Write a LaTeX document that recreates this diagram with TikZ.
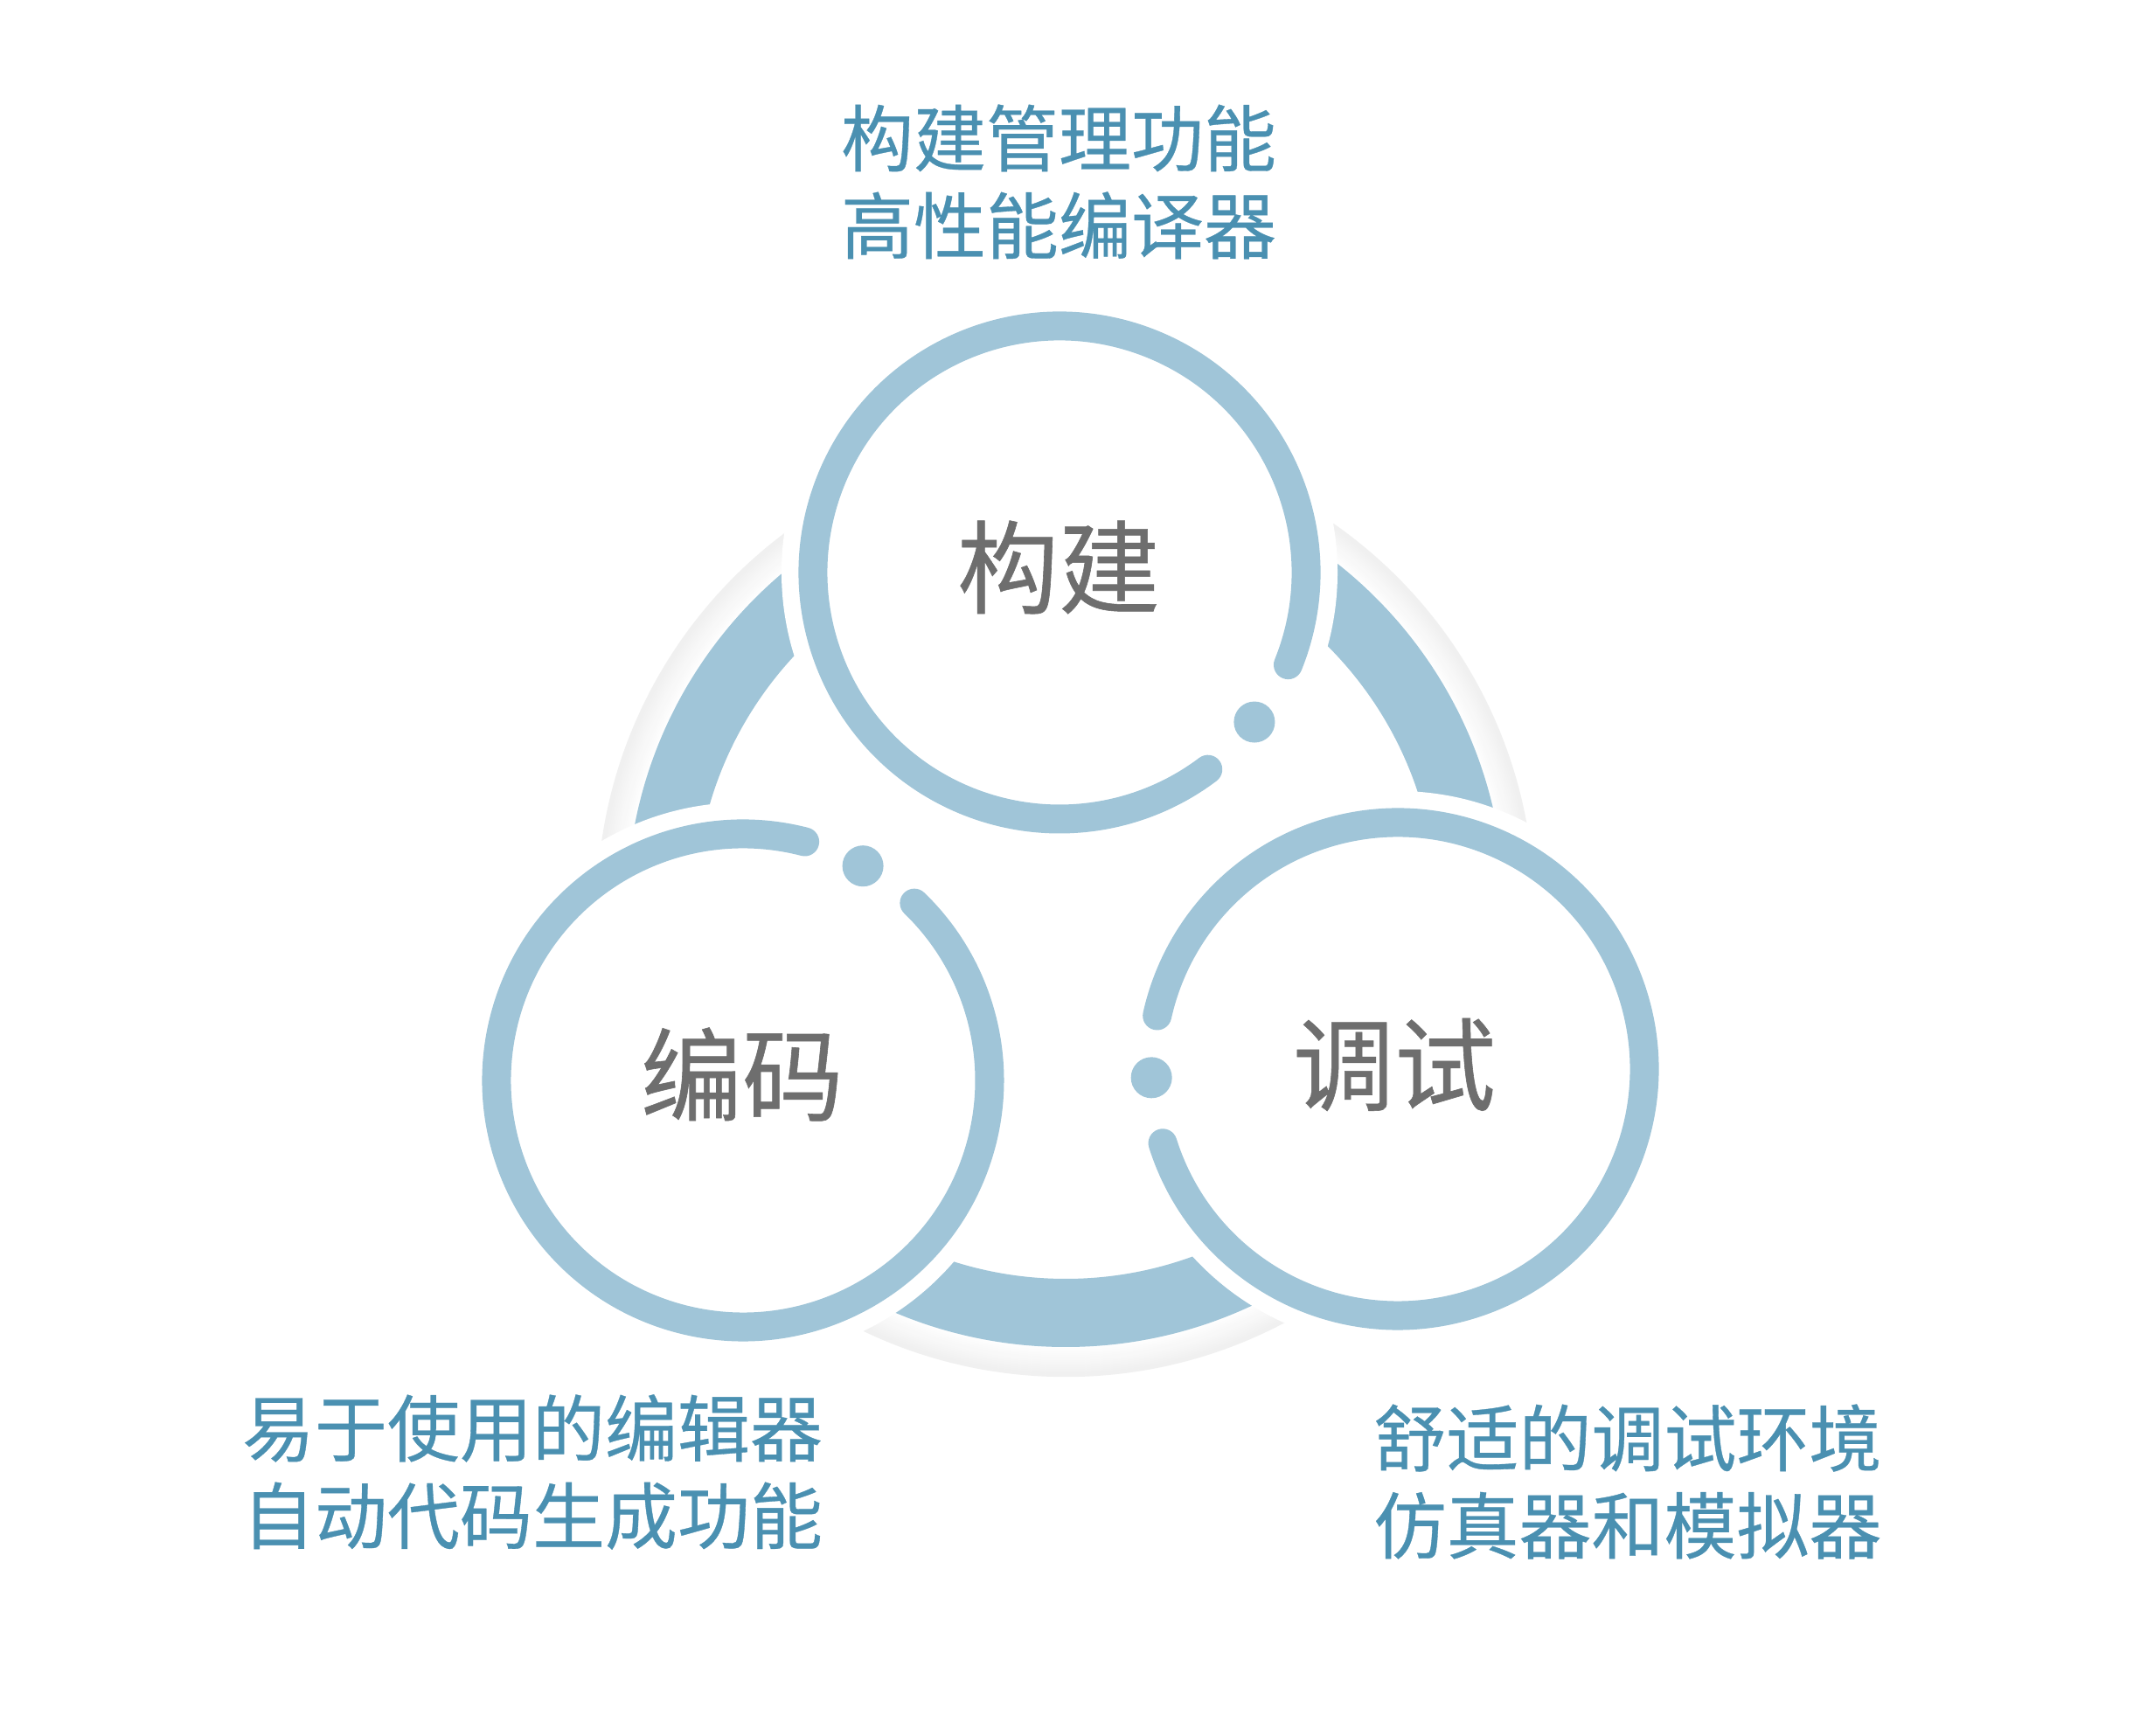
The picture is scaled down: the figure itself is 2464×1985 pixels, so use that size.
\documentclass[tikz,border=0pt]{standalone}
\usepackage{fontspec}
\newfontfamily\cjk[FakeBold=0.4]{Noto Sans CJK SC}
\newfontfamily\cjklbl[FakeBold=0.5]{Noto Sans CJK SC}
\definecolor{ringblue}{HTML}{A0C5D8}
\definecolor{txtblue}{HTML}{4A90B1}
\definecolor{lblgray}{HTML}{6E6E6E}
\begin{document}
\begin{tikzpicture}[x=0.01cm,y=0.01cm,
  circline/.style={draw=ringblue,line width=0.33cm,line cap=round},
  dotfill/.style={fill=ringblue},
  halo/.style={fill=white},
  infotext/.style={text=txtblue,align=center,font={\cjk\fontsize{23.6pt}{28.45pt}\selectfont},inner sep=0pt},
  lbltext/.style={text=lblgray,font={\cjklbl\fontsize{33pt}{38pt}\selectfont},inner sep=0pt}]
\useasboundingbox (0,0) rectangle (2464,1985);
\fill[white] (0,0) rectangle (2464,1985);
% centres
\coordinate (C) at (1219,946);
\coordinate (T) at (1212,1330);
\coordinate (L) at (850,749);
\coordinate (R) at (1599,762);
% shadow of the big ring
\foreach \i in {0,...,16}{
  \pgfmathsetmacro\g{0.5+5.5*\i/16}
  \draw[line width=0.024cm,black!\g] (C) circle (503+2*\i);
}
% big ring
\fill[ringblue,even odd rule] (C) circle (502) (C) circle (424);
% halos
\fill[halo] (T) circle (318);
\fill[halo] (L) circle (318);
\fill[halo] (R) circle (318);
% top circle
\draw[circline] ([shift={(-22:282)}]T) arc[start angle=-22,end angle=307,radius=282];
\fill[dotfill] ([shift={(-37.5:281)}]T) circle (23.5);
% left circle
\draw[circline] ([shift={(75.5:282)}]L) arc[start angle=75.5,end angle=406,radius=282];
\fill[dotfill] ([shift={(60.8:281)}]L) circle (23.5);
% right circle
\draw[circline] ([shift={(197.5:282)}]R) arc[start angle=197.5,end angle=527.5,radius=282];
\fill[dotfill] ([shift={(182:282)}]R) circle (23.5);
% labels
\node[lbltext] (lbuild) at (1211,1336) {构建};
\node[lbltext] (lcode) at (849,756) {编码};
\node[lbltext] (ldebug) at (1595,767) {调试};
% descriptions
\node[infotext] (dbuild) at (1211,1777) {构建管理功能\\高性能编译器};
\node[infotext] (dcode) at (609,301) {易于使用的编辑器\\自动代码生成功能};
\node[infotext] (ddebug) at (1862,290) {舒适的调试环境\\仿真器和模拟器};
\end{tikzpicture}
\end{document}
